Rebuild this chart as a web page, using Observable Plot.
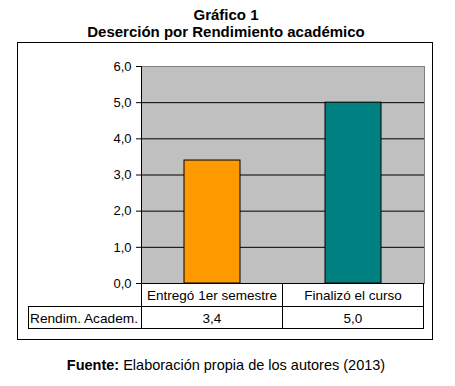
<!DOCTYPE html>
<html><head><meta charset="utf-8">
<script src="https://cdn.jsdelivr.net/npm/d3@7"></script>
<script src="https://cdn.jsdelivr.net/npm/@observablehq/plot@0.6"></script>
<style>
body{margin:0;background:#fff;}
svg{display:block;}
</style>
</head><body><div id="chart"></div>
<script>
const categories = ["Entregó 1er semestre", "Finalizó el curso"];
const values = [3.4, 5.0];
const barColors = ["#FF9900", "#008080"];
const seriesName = "Rendim. Academ.";
const yTicks = [0, 1, 2, 3, 4, 5, 6];
const title = "Gráfico 1";
const subtitle = "Deserción por Rendimiento académico";
const sourceLabel = "Fuente:";
const sourceText = " Elaboración propia de los autores (2013)";

const FONT = '"Liberation Sans", Arial, sans-serif';
const data = categories.map((c, i) => ({category: c, value: values[i]}));
const fmt = d => d.toFixed(1).replace(".", ",");

const plot = Plot.plot({
  width: 455, height: 386,
  marginLeft: 141, marginRight: 31, marginTop: 66, marginBottom: 103,
  style: {fontFamily: FONT, fontSize: "13px", color: "#000", background: "#fff"},
  x: {domain: categories, paddingInner: 0.6, paddingOuter: 0.3, axis: null},
  y: {domain: [0, 6], axis: null},
  color: {domain: categories, range: barColors},
  marks: [
    Plot.frame({fill: "#C0C0C0", stroke: "#808080"}),
    Plot.gridY(yTicks.filter(t => t > 0 && t < 6), {stroke: "#000", strokeOpacity: 1}),
    Plot.barY(data, {x: "category", y: "value", fill: "category", stroke: "#000", strokeWidth: 1}),
    Plot.ruleY([0], {stroke: "#000"}),
    Plot.frame({anchor: "left", stroke: "#000"}),
    Plot.axisY({ticks: yTicks, tickFormat: fmt, tickSize: 5, tickPadding: 5, label: null, fontSize: 13})
  ]
});

const svg = d3.select(plot);
const xs = plot.scale("x");
const ys = plot.scale("y");
const step = xs.step;
const center = c => xs.apply(c) + xs.bandwidth / 2;
const left = xs.range[0], right = xs.range[1];
const y0 = ys.apply(0);
const r1 = y0 + 23, r2 = r1 + 22;
const tableLeft = 28;

const g = svg.append("g").attr("font-family", FONT).attr("fill", "#000");

// outer border
g.append("rect").attr("x", 17.5).attr("y", 42.5).attr("width", 415).attr("height", 297)
  .attr("fill", "none").attr("stroke", "#000");

// titles
g.append("text").attr("x", 226).attr("y", 20).attr("text-anchor", "middle")
  .attr("font-weight", "bold").attr("font-size", 15).text(title);
g.append("text").attr("x", 226).attr("y", 37).attr("text-anchor", "middle")
  .attr("font-weight", "bold").attr("font-size", 15).text(subtitle);

// table lines
const lines = g.append("g").attr("stroke", "#000").attr("fill", "none").attr("shape-rendering", "crispEdges");
lines.append("line").attr("x1", tableLeft).attr("x2", right).attr("y1", r1).attr("y2", r1);
lines.append("line").attr("x1", tableLeft).attr("x2", right).attr("y1", r2).attr("y2", r2);
lines.append("line").attr("x1", tableLeft).attr("x2", tableLeft).attr("y1", r1).attr("y2", r2);
const bounds = [left, ...categories.map(c => center(c) + step / 2)];
bounds.forEach(b => lines.append("line").attr("x1", b).attr("x2", b).attr("y1", y0).attr("y2", r2));

// table text
categories.forEach((c, i) => {
  g.append("text").attr("x", center(c)).attr("y", y0 + 17).attr("text-anchor", "middle")
    .attr("font-size", 13.5).text(c);
  g.append("text").attr("x", center(c)).attr("y", r1 + 17).attr("text-anchor", "middle")
    .attr("font-size", 13.5).text(fmt(values[i]));
});
g.append("text").attr("x", tableLeft + 2).attr("y", r1 + 17).attr("text-anchor", "start")
  .attr("font-size", 13.5).attr("textLength", 108).attr("lengthAdjust", "spacingAndGlyphs").text(seriesName);

// caption
const cap = g.append("text").attr("x", 226).attr("y", 370).attr("text-anchor", "middle").attr("font-size", 14.5);
cap.append("tspan").attr("font-weight", "bold").text(sourceLabel);
cap.append("tspan").text(sourceText);

document.getElementById("chart").appendChild(plot);
</script>
</body></html>
